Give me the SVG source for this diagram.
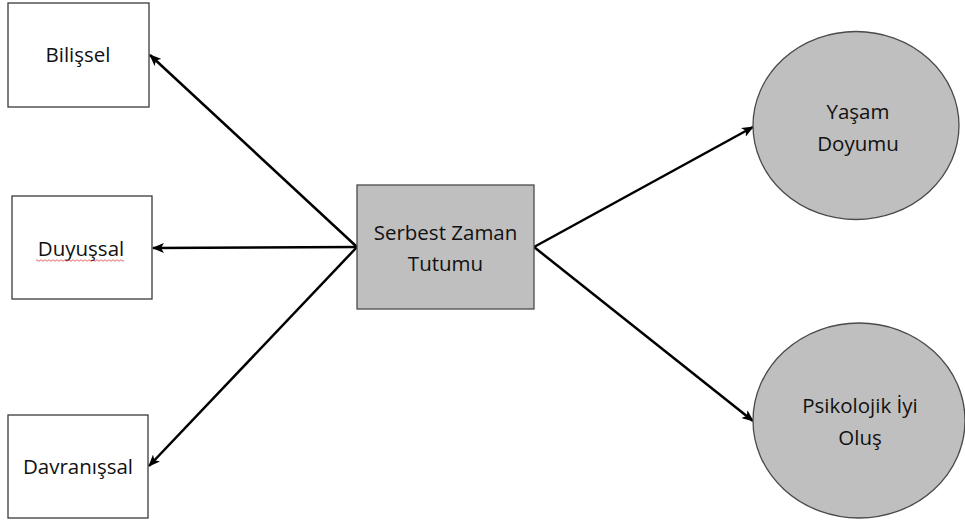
<svg xmlns="http://www.w3.org/2000/svg" width="965" height="524" viewBox="0 0 965 524">
  <style>
    .box { fill: #ffffff; stroke: #3a3a3a; stroke-width: 1.3; }
    .gray { fill: #bfbfbf; stroke: #4a4a4a; stroke-width: 1.3; }
    .lbl { font-family: "Open Sans", "Liberation Sans", sans-serif; font-size: 20.5px; fill: #111; text-anchor: middle; }
    .conn { stroke: #000; stroke-width: 2.5; fill: none; marker-end: url(#arr); }
  </style>
  <defs>
    <marker id="arr" viewBox="0 0 12 10" refX="11" refY="5" markerWidth="12" markerHeight="10" markerUnits="userSpaceOnUse" orient="auto">
      <path d="M0,0 L12,5 L0,10 L3,5 Z" fill="#000"/>
    </marker>
  </defs>
  <rect width="965" height="524" fill="#ffffff"/>

  <g id="connectors">
    <line class="conn" x1="357" y1="247" x2="150" y2="55"/>
    <line class="conn" x1="357" y1="247" x2="153" y2="248"/>
    <line class="conn" x1="357" y1="247" x2="149" y2="466"/>
    <line class="conn" x1="534" y1="247" x2="753" y2="127"/>
    <line class="conn" x1="534" y1="247" x2="753" y2="421"/>
  </g>

  <g id="bilissel">
    <rect class="box" x="8" y="3" width="141" height="104"/>
    <text class="lbl" x="78" y="62">Bilişsel</text>
  </g>

  <g id="duyussal">
    <rect class="box" x="12" y="196" width="140" height="103"/>
    <text class="lbl" x="81" y="256">Duyuşsal</text>
    <path d="M36,260.5 q1,-1.5 2,0 t2,0 t2,0 t2,0 t2,0 t2,0 t2,0 t2,0 t2,0 t2,0 t2,0 t2,0 t2,0 t2,0 t2,0 t2,0 t2,0 t2,0 t2,0 t2,0 t2,0 t2,0 t2,0 t2,0 t2,0 t2,0 t2,0 t2,0 t2,0 t2,0 t2,0 t2,0 t2,0 t2,0 t2,0 t2,0 t2,0 t2,0 t2,0 t2,0 t2,0 t2,0 t2,0 t2,0" fill="none" stroke="#e04040" stroke-width="0.8"/>
  </g>

  <g id="davranissal">
    <rect class="box" x="8" y="415" width="140" height="103"/>
    <text class="lbl" x="78" y="474">Davranışsal</text>
  </g>

  <g id="serbest">
    <rect class="gray" x="357" y="185" width="177" height="124"/>
    <text class="lbl" x="445.5" y="240">Serbest Zaman</text>
    <text class="lbl" x="445.5" y="271">Tutumu</text>
  </g>

  <g id="yasam">
    <ellipse class="gray" cx="856" cy="125.5" rx="103" ry="94"/>
    <text class="lbl" x="858" y="119">Yaşam</text>
    <text class="lbl" x="858" y="151">Doyumu</text>
  </g>

  <g id="psikolojik">
    <ellipse class="gray" cx="859" cy="420.5" rx="106" ry="97.5"/>
    <text class="lbl" x="860" y="413">Psikolojik İyi</text>
    <text class="lbl" x="860" y="445">Oluş</text>
  </g>
</svg>
